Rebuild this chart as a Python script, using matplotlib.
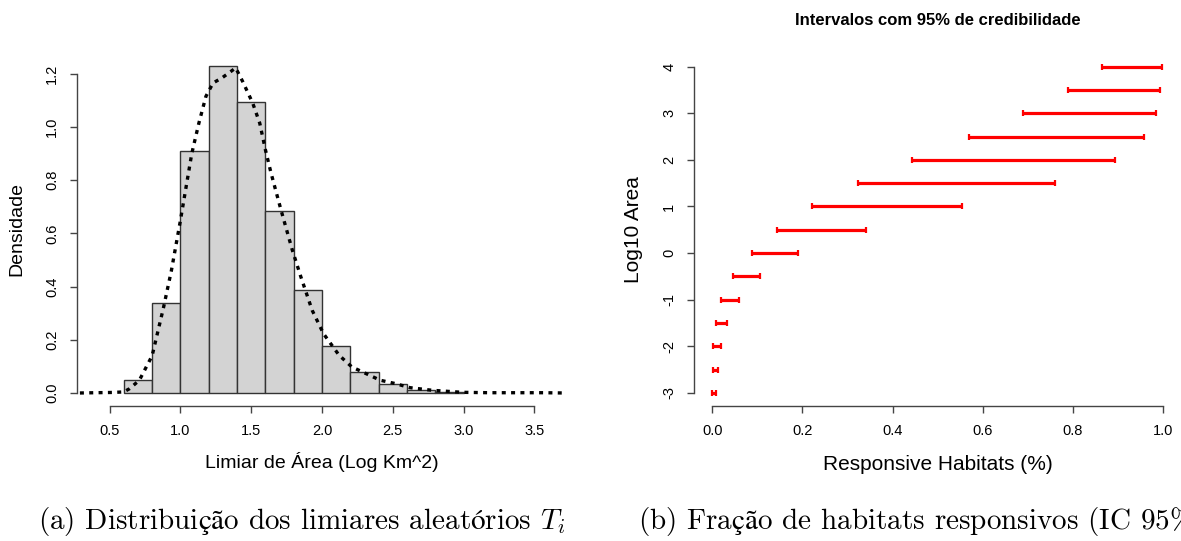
import numpy as np
import matplotlib
matplotlib.use('Agg')
import matplotlib.pyplot as plt

plt.rcParams['font.family'] = ['Liberation Sans', 'DejaVu Sans']
plt.rcParams['axes.unicode_minus'] = False
plt.rcParams['mathtext.fontset'] = 'cm'

# histograma dos limiares (densidade)
quebras = [0.6, 0.8, 1.0, 1.2, 1.4, 1.6, 1.8, 2.0, 2.2, 2.4, 2.6, 2.8, 3.0]
densidades = [0.048, 0.34, 0.91, 1.23, 1.092, 0.685, 0.386, 0.178, 0.077, 0.035, 0.010, 0.003]

# curva de densidade estimada
dens_x = [0.29, 0.40, 0.52, 0.60, 0.64, 0.71, 0.80, 0.88, 0.936, 0.997, 1.08, 1.13,
          1.18, 1.23, 1.295, 1.36, 1.39, 1.44, 1.51, 1.56, 1.60, 1.64, 1.71, 1.79,
          1.85, 1.93, 2.01, 2.12, 2.21, 2.31, 2.41, 2.52, 2.62, 2.78, 2.99, 3.18,
          3.40, 3.56, 3.71]
dens_y = [0.0, 0.001, 0.002, 0.004, 0.016, 0.048, 0.14, 0.32, 0.46, 0.64, 0.90, 1.014,
          1.115, 1.165, 1.185, 1.21, 1.222, 1.17, 1.09, 1.014, 0.914, 0.826, 0.688, 0.537,
          0.437, 0.311, 0.223, 0.142, 0.098, 0.073, 0.048, 0.035, 0.020, 0.010, 0.0025, 0.001,
          0.001, 0.001, 0.0]

# intervalos de credibilidade
log_area = [4, 3.5, 3, 2.5, 2, 1.5, 1, 0.5, 0, -0.5, -1, -1.5, -2, -2.5, -3]
ic_inf = [0.864, 0.790, 0.690, 0.570, 0.444, 0.3225, 0.222, 0.1426, 0.088, 0.046,
          0.0198, 0.0079, 0.0024, 0.0008, 0.0]
ic_sup = [0.998, 0.994, 0.984, 0.958, 0.893, 0.761, 0.554, 0.342, 0.190, 0.105,
          0.0586, 0.0333, 0.0198, 0.0119, 0.0071]

fig = plt.figure(figsize=(11.81, 5.41), dpi=100)
ax1 = fig.add_axes([0.0655, 0.2495, 0.4144, 0.6531])
ax2 = fig.add_axes([0.5879, 0.2495, 0.4121, 0.6515])


def estilo_r(ax, xb, yb):
    for s in ['top', 'right']:
        ax.spines[s].set_visible(False)
    ax.spines['left'].set_bounds(*yb)
    ax.spines['bottom'].set_bounds(*xb)
    for s in ['left', 'bottom']:
        ax.spines[s].set_color('#444444')
        ax.spines[s].set_linewidth(1.0)
    ax.tick_params(direction='out', length=5, width=1.0, color='#444444',
                   labelsize=10.5, pad=8)
    for t in ax.get_yticklabels():
        t.set_rotation(90)
        t.set_va('center')


# painel (a)
larg = np.diff(quebras)
ax1.bar(quebras[:-1], densidades, width=larg, align='edge', color='#d3d3d3',
        edgecolor='#333333', linewidth=1.0)
ax1.plot(dens_x, dens_y, color='black', lw=2.4, linestyle=(0, (1.2, 1.6)))
ax1.set_xlim(0.272, 3.728)
ax1.set_ylim(-0.049, 1.279)
ax1.set_xticks([0.5, 1.0, 1.5, 2.0, 2.5, 3.0, 3.5])
ax1.set_yticks([0.0, 0.2, 0.4, 0.6, 0.8, 1.0, 1.2])
estilo_r(ax1, (0.5, 3.5), (0.0, 1.2))
ax1.set_xlabel('Limiar de Área (Log Km^2)', fontsize=14)
ax1.set_ylabel('Densidade', fontsize=14)
ax1.xaxis.set_label_coords(0.5, -0.158)
ax1.xaxis.label.set_va('center')
ax1.yaxis.set_label_coords(-0.123, 0.5)
ax1.yaxis.label.set_va('center')

# painel (b)
ax2.hlines(log_area, ic_inf, ic_sup, color='red', lw=2.3)
ax2.plot(ic_inf, log_area, ls='none', marker='|', ms=4.5, mew=1.6, color='red')
ax2.plot(ic_sup, log_area, ls='none', marker='|', ms=4.5, mew=1.6, color='red')
ax2.set_xlim(-0.04, 1.04)
ax2.set_ylim(-3.28, 4.28)
ax2.set_xticks([0.0, 0.2, 0.4, 0.6, 0.8, 1.0])
ax2.set_yticks([-3, -2, -1, 0, 1, 2, 3, 4])
estilo_r(ax2, (0.0, 1.0), (-3, 4))
ax2.set_xlabel('Responsive Habitats (%)', fontsize=15)
ax2.set_ylabel('Log10 Area', fontsize=15)
ax2.xaxis.set_label_coords(0.5, -0.167)
ax2.xaxis.label.set_va('center')
ax2.yaxis.set_label_coords(-0.124, 0.5)
ax2.yaxis.label.set_va('center')
ax2.text(0.5, 1.095, 'Intervalos com 95% de credibilidade', transform=ax2.transAxes,
         ha='center', va='center', fontsize=12, fontweight='bold')

# legendas das figuras (acentos via mathtext, o cmr10 nao os tem)
fig.text(38 / 1181, 1 - 522 / 541,
         r'(a) Distribui$\mathrm{ção}$ dos limiares aleat$\mathrm{ó}$rios $T_i$',
         ha='left', va='center', fontsize=21, family='cmr10')
fig.text(638 / 1181, 1 - 522 / 541,
         r'(b) Fra$\mathrm{ção}$ de habitats responsivos (IC 95%)',
         ha='left', va='center', fontsize=21, family='cmr10')

fig.savefig('out.png', dpi=100)
